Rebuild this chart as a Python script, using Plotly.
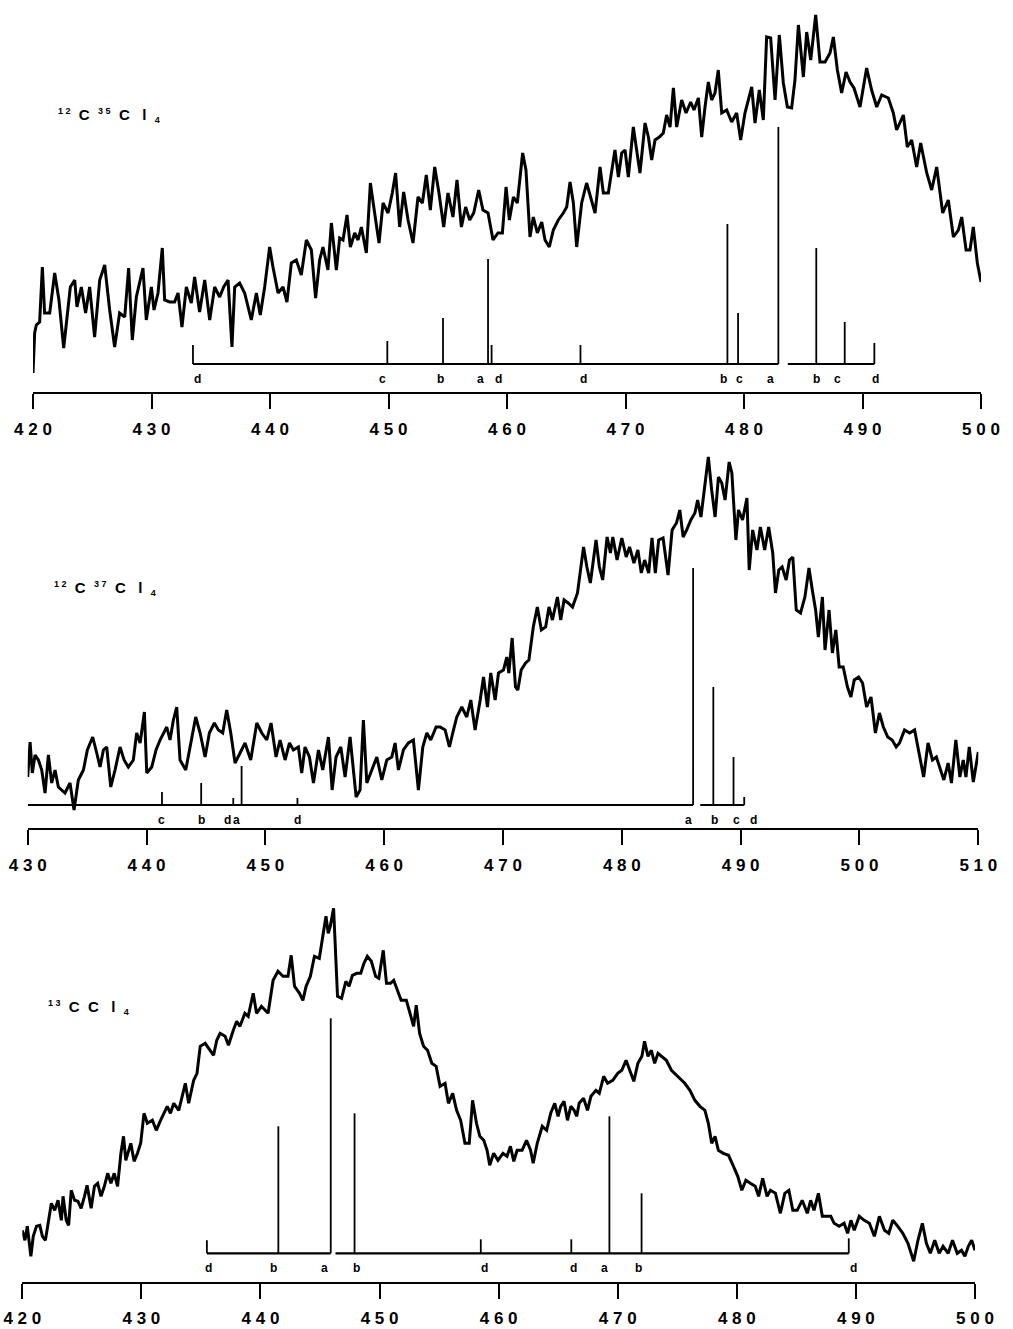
import plotly.graph_objects as go

# ---------------- 12C35Cl4 spectrum (420-500) ----------------
x1 = [420.0, 420.14, 420.28, 420.56, 420.79, 420.98, 421.41, 421.83, 422.19, 422.59,
      423.15, 423.52, 423.71, 424.08, 424.44, 424.78, 425.2, 425.63, 426.05, 426.47,
      426.89, 427.31, 427.74, 428.07, 428.38, 428.72, 429.28, 429.56, 429.99, 430.21,
      430.55, 430.91, 431.11, 431.53, 431.95, 432.24, 432.57, 432.94, 433.36, 433.64,
      434.06, 434.49, 434.91, 435.33, 435.75, 436.09, 436.46, 436.79, 437.02, 437.44,
      437.86, 438.42, 438.85, 439.18, 439.55, 439.97, 440.25, 440.68, 441.1, 441.43,
      441.8, 442.22, 442.64, 443.07, 443.49, 443.85, 444.19, 444.47, 444.89, 445.18,
      445.6, 445.88, 446.16, 446.5, 446.78, 447.15, 447.43, 447.71, 448.13, 448.47,
      448.83, 449.2, 449.54, 449.96, 450.32, 450.6, 450.94, 451.28, 451.65, 452.07,
      452.49, 452.86, 453.19, 453.53, 453.9, 454.26, 454.66, 455.02, 455.44, 455.78,
      456.15, 456.51, 456.85, 457.19, 457.61, 457.97, 458.4, 458.82, 459.24, 459.61,
      459.92, 460.2, 460.54, 460.87, 461.32, 461.6, 461.94, 462.22, 462.56, 462.93,
      463.21, 463.57, 463.91, 464.33, 464.75, 465.04, 465.32, 465.6, 465.88, 466.3,
      466.72, 467.06, 467.43, 467.85, 468.13, 468.55, 468.83, 469.11, 469.4, 469.68,
      469.96, 470.24, 470.66, 470.94, 471.22, 471.65, 471.93, 472.21, 472.49, 472.86,
      473.19, 473.47, 473.76, 474.04, 474.32, 474.74, 475.11, 475.5, 475.78, 476.15,
      476.43, 476.71, 476.99, 477.27, 477.55, 477.83, 478.12, 478.54, 478.96, 479.38,
      479.72, 480.08, 480.37, 480.65, 480.93, 481.29, 481.63, 481.91, 482.25, 482.62,
      482.98, 483.32, 483.66, 484.02, 484.3, 484.59, 485.01, 485.29, 485.63, 486.05,
      486.41, 486.84, 487.26, 487.54, 487.88, 488.24, 488.61, 488.95, 489.28, 489.79,
      490.35, 490.77, 491.2, 491.62, 492.18, 492.6, 492.88, 493.45, 493.78, 494.15,
      494.57, 494.91, 495.42, 495.84, 496.26, 496.77, 497.24, 497.67, 498.09, 498.37,
      498.74, 499.07, 499.35, 499.69, 500.0]
y1 = [-9, 31, 39, 42, 97, 51, 51, 91, 64, 16,
      77, 84, 57, 77, 51, 77, 27, 84, 99, 54,
      17, 51, 47, 96, 24, 67, 96, 44, 77, 54,
      71, 116, 64, 62, 62, 71, 37, 77, 61, 87,
      52, 84, 44, 77, 67, 77, 84, 17, 77, 81,
      71, 44, 71, 49, 77, 117, 97, 71, 77, 62,
      101, 104, 89, 124, 114, 66, 104, 117, 94, 141,
      94, 126, 124, 149, 117, 131, 124, 137, 111, 181,
      151, 121, 161, 151, 171, 191, 137, 172, 144, 121,
      167, 161, 189, 154, 197, 171, 137, 171, 147, 184,
      137, 157, 144, 151, 174, 154, 151, 124, 131, 131,
      177, 144, 167, 161, 211, 194, 127, 147, 131, 142,
      124, 117, 134, 144, 151, 157, 182, 161, 117, 161,
      181, 167, 151, 197, 171, 171, 191, 214, 187, 211,
      214, 187, 237, 214, 191, 241, 227, 204, 224, 227,
      231, 249, 237, 276, 237, 264, 251, 262, 254, 266,
      227, 257, 282, 264, 271, 294, 251, 254, 242, 251,
      224, 251, 264, 277, 241, 274, 244, 327, 326, 264,
      329, 281, 257, 256, 284, 339, 287, 332, 304, 349,
      302, 302, 311, 327, 294, 271, 292, 282, 276, 257,
      296, 274, 257, 269, 266, 251, 234, 249, 217, 224,
      197, 221, 191, 174, 197, 151, 164, 127, 134, 147,
      114, 114, 137, 101, 82]
stick1_pos = [433.5, 449.9, 454.6, 458.4, 458.7, 466.2, 478.6, 479.5, 482.9, 486.1, 488.5, 491.0]
stick1_int = [19, 23, 46, 105, 19, 19, 140, 51, 237, 116, 42, 21]
stick1_lab = ["d", "c", "b", "a", "d", "d", "b", "c", "a", "b", "c", "d"]
base1 = [(433.5, 482.9), (483.7, 491.0)]
ticks1 = [420, 430, 440, 450, 460, 470, 480, 490, 500]

# ---------------- 12C37Cl4 spectrum (430-510) ----------------
x2 = [430.0, 430.2, 430.39, 430.62, 430.9, 431.18, 431.46, 431.74, 432.02, 432.3,
      432.58, 432.86, 433.14, 433.56, 433.9, 434.26, 434.69, 435.02, 435.47, 435.81,
      436.09, 436.37, 436.65, 436.99, 437.35, 437.77, 438.11, 438.47, 438.89, 439.17,
      439.46, 439.82, 440.02, 440.44, 440.8, 441.14, 441.42, 441.7, 441.98, 442.26,
      442.54, 442.82, 443.3, 443.66, 444.14, 444.51, 444.93, 445.29, 445.71, 446.05,
      446.41, 446.75, 447.09, 447.45, 447.87, 448.29, 448.77, 449.28, 449.7, 450.12,
      450.48, 450.9, 451.24, 451.66, 452.03, 452.36, 452.78, 453.06, 453.34, 453.71,
      454.05, 454.47, 454.83, 455.31, 455.62, 455.95, 456.35, 456.71, 457.13, 457.64,
      457.97, 458.25, 458.54, 458.96, 459.38, 459.8, 460.22, 460.64, 460.92, 461.2,
      461.62, 462.04, 462.46, 462.88, 463.25, 463.59, 463.92, 464.37, 464.71, 465.13,
      465.49, 465.77, 466.11, 466.53, 466.95, 467.29, 467.65, 468.08, 468.36, 468.69,
      468.97, 469.34, 469.62, 470.04, 470.32, 470.49, 470.77, 471.05, 471.25, 471.53,
      471.9, 472.18, 472.55, 472.89, 473.23, 473.59, 473.87, 474.16, 474.58, 474.86,
      475.14, 475.48, 475.85, 476.27, 476.5, 476.78, 477.06, 477.35, 477.83, 478.11,
      478.39, 478.76, 479.04, 479.24, 479.6, 480.0, 480.37, 480.65, 481.02, 481.35,
      481.64, 481.92, 482.26, 482.54, 482.82, 483.1, 483.47, 483.89, 484.23, 484.6,
      484.88, 485.16, 485.45, 485.81, 486.15, 486.38, 486.66, 487.0, 487.28, 487.56,
      487.85, 488.13, 488.41, 488.69, 489.03, 489.26, 489.6, 489.82, 490.16, 490.53,
      490.72, 491.01, 491.37, 491.66, 492.02, 492.36, 492.7, 492.93, 493.21, 493.49,
      493.83, 494.11, 494.39, 494.68, 495.04, 495.41, 495.75, 496.03, 496.31, 496.54,
      496.88, 497.1, 497.44, 497.72, 498.01, 498.29, 498.63, 498.99, 499.28, 499.56,
      499.93, 500.26, 500.6, 500.97, 501.34, 501.68, 502.01, 502.38, 502.75, 503.09,
      503.37, 503.79, 504.22, 504.64, 505.01, 505.4, 505.77, 506.14, 506.47, 506.76,
      507.1, 507.46, 507.74, 508.11, 508.45, 508.73, 508.96, 509.24, 509.58, 510.0]
y2 = [28, 63, 32, 50, 45, 35, 12, 50, 22, 35,
      18, 15, 12, 22, -5, 25, 35, 55, 68, 52,
      38, 55, 58, 18, 35, 58, 45, 38, 45, 72,
      62, 93, 32, 38, 55, 65, 72, 78, 65, 85,
      98, 45, 35, 58, 88, 72, 48, 72, 82, 75,
      72, 95, 72, 42, 52, 62, 45, 82, 72, 65,
      82, 48, 65, 45, 62, 55, 58, 32, 58, 48,
      22, 55, 35, 68, 15, 48, 58, 28, 68, 8,
      15, 85, 22, 35, 48, 25, 45, 48, 62, 35,
      55, 62, 65, 15, 58, 72, 65, 78, 78, 75,
      58, 72, 88, 98, 88, 105, 75, 105, 128, 98,
      132, 105, 132, 135, 148, 132, 167, 118, 115, 135,
      142, 145, 178, 198, 175, 178, 198, 185, 208, 185,
      205, 202, 198, 212, 232, 258, 238, 222, 265, 238,
      225, 268, 252, 268, 245, 267, 248, 258, 242, 255,
      232, 245, 232, 267, 232, 265, 267, 230, 275, 282,
      295, 268, 275, 285, 292, 305, 288, 318, 348, 315,
      288, 328, 322, 305, 343, 332, 265, 295, 285, 307,
      235, 275, 255, 278, 255, 278, 252, 212, 235, 238,
      225, 245, 248, 195, 192, 208, 237, 215, 195, 168,
      208, 155, 195, 152, 175, 138, 138, 118, 108, 125,
      128, 122, 98, 108, 72, 92, 78, 68, 65, 58,
      62, 75, 72, 75, 52, 28, 62, 45, 48, 38,
      25, 42, 22, 65, 28, 45, 28, 58, 23, 53]
stick2_pos = [441.3, 444.6, 447.3, 448.0, 452.7, 486.0, 487.7, 489.4, 490.3]
stick2_int = [13, 22, 7, 39, 7, 237, 118, 48, 8]
stick2_lab = ["c", "b", "d", "a", "d", "a", "b", "c", "d"]
base2 = [(430.0, 486.0), (486.6, 490.3)]
ticks2 = [430, 440, 450, 460, 470, 480, 490, 500, 510]

# ---------------- 13CCl4 spectrum (420-500) ----------------
x3 = [420.0, 420.22, 420.42, 420.72, 420.92, 421.19, 421.47, 421.69, 421.94, 422.17,
      422.44, 422.72, 423.0, 423.28, 423.42, 423.69, 423.89, 424.11, 424.39, 424.67,
      424.94, 425.22, 425.44, 425.78, 426.06, 426.33, 426.61, 426.89, 427.17, 427.44,
      427.72, 428.0, 428.28, 428.5, 428.69, 429.11, 429.39, 429.67, 429.94, 430.22,
      430.5, 430.92, 431.25, 431.61, 431.89, 432.17, 432.44, 432.72, 433.14, 433.42,
      433.69, 433.97, 434.39, 434.67, 434.94, 435.36, 435.78, 436.06, 436.33, 436.61,
      437.03, 437.31, 437.72, 438.0, 438.28, 438.69, 438.97, 439.39, 439.67, 440.08,
      440.64, 441.06, 441.47, 441.89, 442.31, 442.58, 442.86, 443.28, 443.56, 443.83,
      444.19, 444.53, 444.94, 445.22, 445.5, 445.69, 445.86, 446.14, 446.33, 446.47,
      446.81, 447.17, 447.44, 447.72, 448.08, 448.42, 448.69, 448.97, 449.31, 449.67,
      449.94, 450.31, 450.58, 450.92, 451.19, 451.47, 451.81, 452.25, 452.58, 452.86,
      453.08, 453.36, 453.69, 454.03, 454.39, 454.75, 455.08, 455.5, 455.78, 456.14,
      456.47, 456.81, 457.17, 457.53, 457.81, 458.14, 458.42, 458.75, 459.03, 459.25,
      459.58, 459.94, 460.36, 460.7, 460.99, 461.27, 461.55, 461.97, 462.34, 462.68,
      462.9, 463.24, 463.66, 464.03, 464.37, 464.71, 464.99, 465.21, 465.49, 465.78,
      466.06, 466.34, 466.56, 466.76, 467.13, 467.46, 467.75, 468.17, 468.45, 468.82,
      469.15, 469.58, 470.0, 470.34, 470.7, 470.99, 471.35, 471.69, 472.03, 472.25,
      472.54, 472.82, 473.1, 473.38, 473.72, 474.08, 474.51, 474.93, 475.3, 475.63,
      476.06, 476.48, 476.9, 477.32, 477.61, 477.89, 478.17, 478.45, 478.87, 479.3,
      479.72, 480.08, 480.42, 480.76, 481.13, 481.55, 481.83, 482.17, 482.54, 482.82,
      483.24, 483.66, 484.03, 484.37, 484.7, 485.07, 485.49, 485.92, 486.2, 486.48,
      486.85, 487.18, 487.61, 487.89, 488.17, 488.59, 489.01, 489.3, 489.58, 489.86,
      490.28, 490.7, 491.13, 491.55, 491.97, 492.4, 492.76, 493.1, 493.52, 493.94,
      494.37, 494.85, 495.21, 495.58, 495.92, 496.25, 496.62, 496.99, 497.32, 497.75,
      498.11, 498.51, 498.87, 499.15, 499.44, 499.72, 500.0]
y3 = [23, 13, 27, -3, 17, 27, 28, 17, 13, 30,
      50, 43, 53, 33, 57, 33, 28, 63, 53, 52,
      45, 57, 68, 45, 67, 70, 57, 67, 80, 70,
      80, 67, 100, 117, 93, 110, 92, 100, 110, 140,
      130, 133, 123, 133, 140, 147, 140, 150, 143, 157,
      170, 150, 173, 180, 207, 210, 203, 198, 213, 220,
      217, 208, 223, 232, 227, 240, 237, 260, 240, 247,
      240, 273, 282, 277, 277, 298, 267, 260, 253, 267,
      277, 297, 295, 317, 337, 320, 327, 345, 293, 257,
      255, 272, 267, 278, 280, 280, 290, 297, 292, 277,
      275, 303, 270, 270, 273, 263, 253, 253, 240, 227,
      248, 220, 207, 203, 190, 187, 167, 170, 150, 160,
      143, 133, 110, 110, 153, 130, 117, 113, 103, 88,
      100, 93, 100, 97, 107, 92, 103, 103, 113, 103,
      90, 110, 127, 123, 140, 150, 137, 147, 152, 133,
      147, 143, 137, 150, 155, 143, 157, 163, 160, 177,
      170, 173, 180, 183, 193, 183, 172, 190, 197, 212,
      197, 203, 190, 200, 197, 193, 183, 178, 173, 170,
      163, 153, 147, 143, 130, 110, 117, 103, 100, 98,
      87, 77, 63, 73, 70, 67, 57, 75, 57, 63,
      60, 40, 60, 63, 43, 43, 53, 40, 53, 43,
      60, 37, 37, 37, 30, 27, 30, 20, 33, 23,
      37, 33, 30, 17, 37, 23, 20, 33, 27, 20,
      10, -8, 13, 30, 10, 0, 13, 0, 7, 0,
      13, 0, 3, -3, 7, 13, 3]
stick3_pos = [435.5, 441.5, 445.9, 447.9, 458.5, 466.1, 469.3, 472.0, 489.4]
stick3_int = [13, 127, 235, 140, 14, 14, 137, 60, 15]
stick3_lab = ["d", "b", "a", "b", "d", "d", "a", "b", "d"]
base3 = [(435.5, 445.9), (446.3, 489.4)]
ticks3 = [420, 430, 440, 450, 460, 470, 480, 490, 500]

# species labels: small superscript mass numbers, spaced capitals, small subscript 4
SUP = '<sup><span style="font-size:9px">{}</span></sup>'
SUB = '<sub><span style="font-size:9px">4</span></sub>'
SP = "&nbsp;"
names = [
    SUP.format("1&nbsp;2") + SP * 2 + "C" + SP * 2 + SUP.format("3&nbsp;5") + SP * 2 + "C" + SP * 3 + "l" + SP * 2 + SUB,
    SUP.format("1&nbsp;2") + SP * 2 + "C" + SP * 2 + SUP.format("3&nbsp;7") + SP * 2 + "C" + SP * 3 + "l" + SP * 2 + SUB,
    SUP.format("1&nbsp;3") + SP * 2 + "C" + SP * 2 + "C" + SP * 3 + "l" + SP * 2 + SUB,
]

# horizontal nudges (px) of the stick letters so neighbouring letters stay apart
shift1 = [5, -5, -3, -8, 7, 3, -4, 1, -8, 0, -7, 1]
shift2 = [0, 0, -6, -5, 0, -5, 1, 3, 9]
shift3 = [2, -5, -6, 2, 4, 2, -5, -3, 5]

W, H = 1013, 1329
INK = "black"

# panel geometry in pixels: (x left, x right), (y top, y of axis line)
panels = [
    dict(x=x1, y=y1, sp=stick1_pos, si=stick1_int, sl=stick1_lab, sh=shift1, base=base1,
         ticks=ticks1, px=(33, 981), py=(0, 392), yr=(-28, 364), label_xy=(56, 115)),
    dict(x=x2, y=y2, sp=stick2_pos, si=stick2_int, sl=stick2_lab, sh=shift2, base=base2,
         ticks=ticks2, px=(27.7, 978.3), py=(440, 828.3), yr=(-23.3, 365), label_xy=(52, 588)),
    dict(x=x3, y=y3, sp=stick3_pos, si=stick3_int, sl=stick3_lab, sh=shift3, base=base3,
         ticks=ticks3, px=(22.3, 975), py=(890, 1281.7), yr=(-28.4, 363.3), label_xy=(46, 1007)),
]

fig = go.Figure()
layout = {}
annotations = []

for i, p in enumerate(panels, start=1):
    xa = "x" if i == 1 else f"x{i}"
    ya = "y" if i == 1 else f"y{i}"
    xkey = "xaxis" if i == 1 else f"xaxis{i}"
    ykey = "yaxis" if i == 1 else f"yaxis{i}"

    # measured spectrum
    fig.add_trace(go.Scatter(x=p["x"], y=p["y"], mode="lines", xaxis=xa, yaxis=ya,
                             line=dict(color=INK, width=3), hoverinfo="skip",
                             showlegend=False))
    # calculated stick spectrum
    sx, sy = [], []
    for pos, h in zip(p["sp"], p["si"]):
        sx += [pos, pos, None]
        sy += [0, h, None]
    fig.add_trace(go.Scatter(x=sx, y=sy, mode="lines", xaxis=xa, yaxis=ya,
                             line=dict(color=INK, width=1.8), hoverinfo="skip",
                             showlegend=False))
    # stick baseline segments
    bx, by = [], []
    for a, b in p["base"]:
        bx += [a, b, None]
        by += [0, 0, None]
    fig.add_trace(go.Scatter(x=bx, y=by, mode="lines", xaxis=xa, yaxis=ya,
                             line=dict(color=INK, width=2.2), hoverinfo="skip",
                             showlegend=False))
    # stick letters
    for pos, lab, dx in zip(p["sp"], p["sl"], p["sh"]):
        annotations.append(dict(x=pos, y=0, xref=xa, yref=ya, text=f"<b>{lab}</b>",
                                showarrow=False, yshift=-15, xshift=dx, yanchor="middle",
                                font=dict(family="Liberation Sans", size=12, color=INK)))
    # species label
    lx, ly = p["label_xy"]
    annotations.append(dict(x=lx / W, y=1 - ly / H, xref="paper", yref="paper",
                            text=f"<b>{names[i - 1]}</b>", showarrow=False,
                            xanchor="left", yanchor="middle",
                            font=dict(family="Liberation Sans", size=15, color=INK)))

    layout[xkey] = dict(
        domain=[p["px"][0] / W, p["px"][1] / W], anchor=ya, automargin=False,
        range=[p["ticks"][0], p["ticks"][-1]],
        tickvals=p["ticks"], ticktext=["<b>" + " ".join(str(t)) + "</b>" for t in p["ticks"]],
        showline=True, linecolor=INK, linewidth=2.2, mirror=False,
        ticks="outside", ticklen=15, tickwidth=2.2, tickcolor=INK,
        ticklabelstandoff=5,
        tickfont=dict(family="Liberation Sans", size=17, color=INK),
        showgrid=False, zeroline=False, fixedrange=True,
    )
    layout[ykey] = dict(
        domain=[1 - p["py"][1] / H, 1 - p["py"][0] / H], anchor=xa, automargin=False,
        range=list(p["yr"]), visible=False, showgrid=False, zeroline=False,
    )

fig.update_layout(
    width=W, height=H, margin=dict(l=0, r=0, t=0, b=0),
    paper_bgcolor="white", plot_bgcolor="white",
    annotations=annotations, **layout,
)

fig.write_html("out.html")
